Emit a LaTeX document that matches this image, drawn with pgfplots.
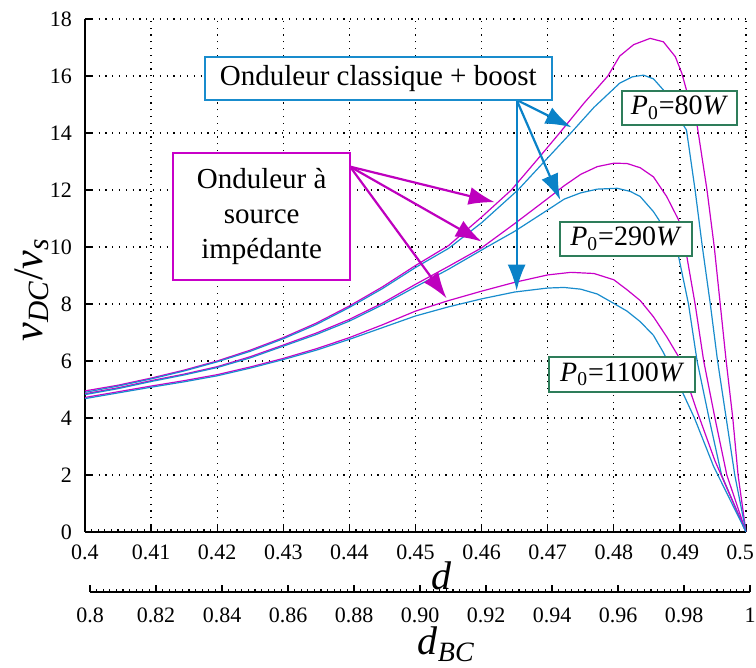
\documentclass[border=0pt]{standalone}
\usepackage{pgfplots}
\pgfplotsset{compat=1.18}
\usepackage{fontspec}
\setmainfont{Liberation Serif}
\usetikzlibrary{arrows.meta}
\definecolor{magC}{RGB}{200,0,200}
\definecolor{bluC}{RGB}{25,140,205}
\definecolor{grnC}{RGB}{46,125,90}
\definecolor{arrM}{RGB}{190,0,190}
\definecolor{arrB}{RGB}{10,130,200}

\pgfplotsset{
  myaxis/.style={
    scale only axis,
    axis x line*=bottom,
    axis line style={-, line width=0.8pt},
    every outer x axis line/.append style={-},
    every outer y axis line/.append style={-},
    tick align=inside,
    major tick length=3.5pt, minor tick length=1.5pt,
    tick style={black, line width=0.6pt},
    minor x tick num=9,
    ticklabel style={font=\fontsize{11}{13}\selectfont},
    /pgf/number format/assume math mode=true,
  }
}

\begin{document}
\begin{tikzpicture}
\path[use as bounding box] (-42.5pt,-68pt) rectangle (335.5pt,266pt);
\begin{axis}[
  myaxis,
  at={(0pt,0pt)}, anchor=south west,
  width=330.5pt, height=256.5pt,
  xmin=0.4, xmax=0.5, ymin=0, ymax=18,
  axis y line*=left,
  xtick={0.4,0.41,0.42,0.43,0.44,0.45,0.46,0.47,0.48,0.49,0.5},
  xticklabels={0.4,0.41,0.42,0.43,0.44,0.45,0.46,0.47,0.48,0.49,\makebox[0pt][c]{\hspace{-6pt}0.5}},
  ytick={0,2,4,6,8,10,12,14,16,18},
  xticklabel style={yshift=-3pt},
  yticklabel style={xshift=-3pt},
  grid=major,
  major grid style={black, line width=0.6pt, dash pattern=on 0.6pt off 2.8pt},
  xlabel={\textit{d}},
  xlabel style={font=\fontsize{20}{24}\selectfont, inner sep=0pt, at={(axis description cs:0.54,0)}, anchor=base, yshift=-29pt},
  ylabel={\textit{v}\textsubscript{\textit{DC}}/\textit{v}\textsubscript{\textit{s}}},
  ylabel style={font=\fontsize{21}{25}\selectfont, at={(axis description cs:-0.08,0.472)}, anchor=center},
]
% P0 = 80 W, impedance source (magenta)
\addplot[magC, line width=0.6pt] coordinates {
(0.400,4.95) (0.405,5.15) (0.410,5.40) (0.415,5.68) (0.420,6.00) (0.425,6.38)
(0.430,6.82) (0.435,7.33) (0.440,7.93) (0.445,8.60) (0.450,9.35) (0.455,10.05)
(0.460,11.05) (0.4645,12.0) (0.468,12.95) (0.4718,14.0) (0.4755,15.05) (0.4791,16.0)
(0.4809,16.7) (0.483,17.1) (0.4855,17.32) (0.4875,17.2) (0.4893,16.68) (0.4903,16.09)
(0.4910,15.5) (0.4926,14.28) (0.4941,12.0) (0.4952,10.0) (0.4961,8.0) (0.4970,6.0)
(0.4980,4.0) (0.4988,2.0) (0.5,0.0)
};
% P0 = 80 W, classic + boost (blue)
\addplot[bluC, line width=0.6pt] coordinates {
(0.400,4.90) (0.405,5.12) (0.410,5.37) (0.415,5.65) (0.420,5.97) (0.425,6.34)
(0.430,6.78) (0.435,7.28) (0.440,7.88) (0.445,8.54) (0.450,9.28) (0.455,9.95)
(0.460,10.85) (0.4655,12.0) (0.4695,13.0) (0.4735,14.0) (0.477,14.9) (0.4809,15.75)
(0.4828,15.97) (0.4845,16.03) (0.486,15.9) (0.4875,15.51) (0.489,14.85) (0.4910,14.1)
(0.4923,12.0) (0.4934,10.0) (0.4946,8.0) (0.4957,6.0) (0.4970,4.0) (0.4983,2.0) (0.5,0.0)
};
% P0 = 290 W, impedance source
\addplot[magC, line width=0.6pt] coordinates {
(0.400,4.85) (0.405,5.06) (0.410,5.31) (0.415,5.54) (0.420,5.80) (0.425,6.15)
(0.430,6.56) (0.435,6.98) (0.440,7.46) (0.445,8.03) (0.450,8.69) (0.455,9.32)
(0.460,9.97) (0.465,10.82) (0.470,11.70) (0.4725,12.15) (0.475,12.55) (0.4775,12.82)
(0.480,12.94) (0.482,12.93) (0.484,12.78) (0.486,12.46) (0.488,11.77) (0.4898,10.95)
(0.4908,10.0) (0.4923,8.0) (0.4936,6.0) (0.4953,4.0) (0.4971,2.0) (0.5,0.0)
};
% P0 = 290 W, classic + boost
\addplot[bluC, line width=0.6pt] coordinates {
(0.400,4.82) (0.405,5.03) (0.410,5.28) (0.415,5.51) (0.420,5.77) (0.425,6.11)
(0.430,6.52) (0.435,6.93) (0.440,7.40) (0.445,7.97) (0.450,8.60) (0.455,9.22)
(0.4608,10.0) (0.465,10.55) (0.470,11.30) (0.4725,11.68) (0.475,11.90) (0.4775,12.03)
(0.4805,12.06) (0.4825,11.95) (0.484,11.77) (0.486,11.24) (0.4875,10.71) (0.4895,10.0)
(0.4913,8.0) (0.4926,6.0) (0.4944,4.0) (0.4963,2.0) (0.5,0.0)
};
% P0 = 1100 W, impedance source
\addplot[magC, line width=0.6pt] coordinates {
(0.400,4.72) (0.405,4.92) (0.410,5.12) (0.415,5.31) (0.420,5.52) (0.425,5.79)
(0.430,6.09) (0.435,6.43) (0.440,6.82) (0.445,7.27) (0.450,7.75) (0.455,8.12)
(0.460,8.45) (0.465,8.76) (0.470,9.02) (0.4735,9.11) (0.477,9.07) (0.480,8.85)
(0.482,8.50) (0.484,8.12) (0.486,7.55) (0.488,6.85) (0.4898,6.15) (0.4925,4.3)
(0.4953,2.5) (0.5,0.0)
};
% P0 = 1100 W, classic + boost
\addplot[bluC, line width=0.6pt] coordinates {
(0.400,4.68) (0.405,4.88) (0.410,5.08) (0.415,5.27) (0.420,5.48) (0.425,5.75)
(0.430,6.05) (0.435,6.38) (0.440,6.76) (0.445,7.17) (0.450,7.58) (0.455,7.90)
(0.460,8.18) (0.465,8.42) (0.470,8.56) (0.4725,8.58) (0.475,8.52) (0.4775,8.35)
(0.480,8.02) (0.482,7.75) (0.484,7.38) (0.486,6.90) (0.4875,6.30) (0.490,5.10)
(0.4922,4.0) (0.4951,2.3) (0.5,0.0)
};
% annotation arrows
\draw[arrB, line width=1.1pt, -{Latex[length=13pt,width=9pt]}] (axis cs:0.4653,15.16) -- (axis cs:0.4736,14.2);
\draw[arrB, line width=1.1pt, -{Latex[length=13pt,width=9pt]}] (axis cs:0.4653,15.16) -- (axis cs:0.4719,11.65);
\draw[arrB, line width=1.1pt, -{Latex[length=13pt,width=9pt]}] (axis cs:0.4653,15.16) -- (axis cs:0.4653,8.47);
\draw[arrM, line width=1.1pt, -{Latex[length=13pt,width=9pt]}] (axis cs:0.4401,12.82) -- (axis cs:0.4620,11.57);
\draw[arrM, line width=1.1pt, -{Latex[length=13pt,width=9pt]}] (axis cs:0.4401,12.82) -- (axis cs:0.4600,10.19);
\draw[arrM, line width=1.1pt, -{Latex[length=13pt,width=9pt]}] (axis cs:0.4401,12.82) -- (axis cs:0.4547,8.2);
% boxes
\node[draw=bluC, line width=1pt, fill=white, inner sep=0pt, minimum width=173.4pt, minimum height=21.4pt,
  font=\fontsize{14.5}{17}\selectfont] at (axis cs:0.44437,15.9) {Onduleur classique + boost};
\node[draw=magC, line width=1pt, fill=white, inner sep=0pt, minimum width=88.4pt, minimum height=63.4pt,
  align=center, font=\fontsize{14.5}{17.5}\selectfont] at (axis cs:0.42673,11.06) {Onduleur à\\source\\impédante};
\node[draw=grnC, line width=1pt, fill=white, inner sep=0pt, minimum width=57.8pt, minimum height=17.2pt,
  font=\fontsize{14}{16}\selectfont] at (axis cs:0.48994,14.88) {\textit{P}\textsubscript{0}=80\textit{W}};
\node[draw=grnC, line width=1pt, fill=white, inner sep=0pt, minimum width=65.9pt, minimum height=17.2pt,
  font=\fontsize{14}{16}\selectfont] at (axis cs:0.48183,10.29) {\textit{P}\textsubscript{0}=290\textit{W}};
\node[draw=grnC, line width=1pt, fill=white, inner sep=0pt, minimum width=72.9pt, minimum height=17.5pt,
  font=\fontsize{14}{16}\selectfont] at (axis cs:0.48127,5.54) {\textit{P}\textsubscript{0}=1100\textit{W}};
\end{axis}

\begin{axis}[
  myaxis,
  at={(2.5pt,-30pt)}, anchor=south west,
  width=330pt, height=1pt,
  xmin=0.8, xmax=1, ymin=0, ymax=1,
  axis y line=none,
  ytick=\empty,
  xtick={0.8,0.82,0.84,0.86,0.88,0.9,0.92,0.94,0.96,0.98,1},
  xticklabels={0.8,0.82,0.84,0.86,0.88,0.90,0.92,0.94,0.96,0.98,1},
  xticklabel style={yshift=-4.5pt},
  xlabel={\textit{d}\textsubscript{\textit{BC}}},
  xlabel style={font=\fontsize{20}{24}\selectfont, at={(axis description cs:0.54,0)}, anchor=base, yshift=-31.5pt},
]
\addplot[draw=none] coordinates {(0.8,0) (1,0)};
\end{axis}
\end{tikzpicture}
\end{document}
